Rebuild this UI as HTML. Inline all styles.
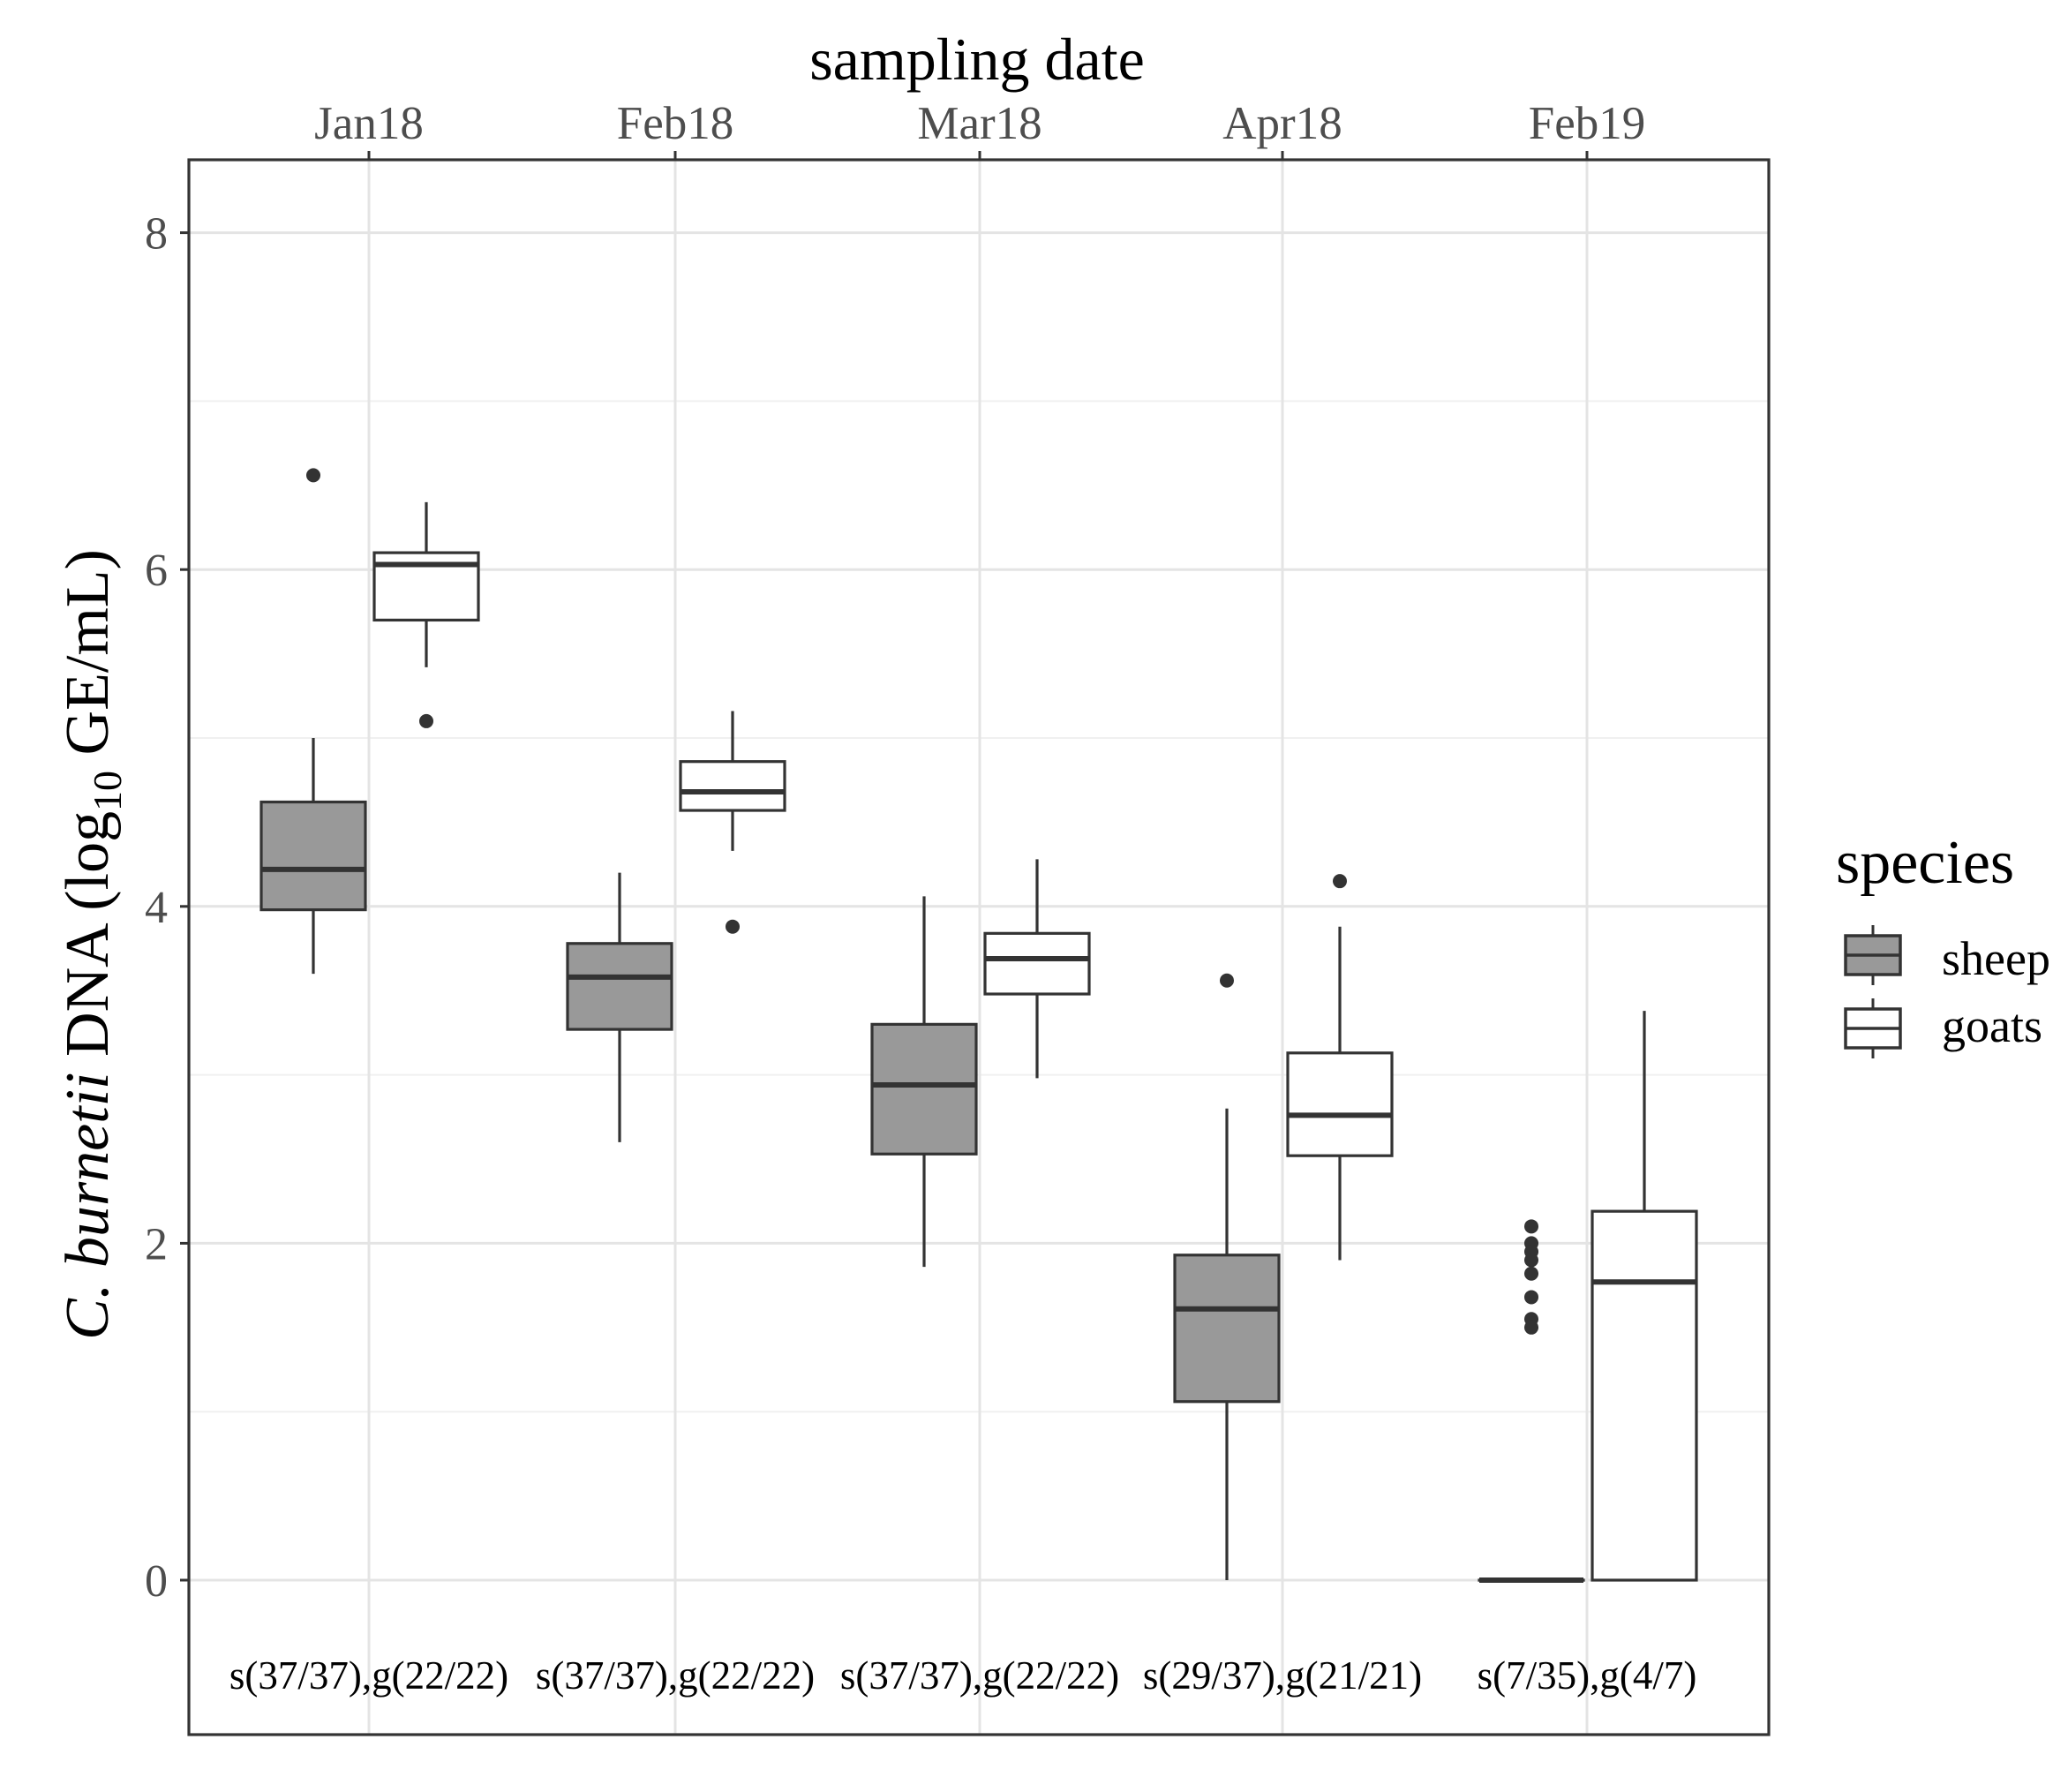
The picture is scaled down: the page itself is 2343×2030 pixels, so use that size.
<!DOCTYPE html>
<html><head><meta charset="utf-8"><style>
html,body{margin:0;padding:0;background:#fff;}
svg{display:block;font-family:"Liberation Serif",serif;}
</style></head><body>
<svg id="s" width="2343" height="2030" viewBox="0 0 2343 2030" xmlns="http://www.w3.org/2000/svg"></svg>
<script>
const s=document.getElementById('s');
const L=214,R=2004,T=181,B=1965;
const Y=v=>1790-v*190.8;
let h='';
for(let v=1;v<=7;v+=2)h+=`<line x1="${L}" x2="${R}" y1="${Y(v)}" y2="${Y(v)}" stroke="#f0f0f0" stroke-width="2"/>`;
for(let v=0;v<=8;v+=2)h+=`<line x1="${L}" x2="${R}" y1="${Y(v)}" y2="${Y(v)}" stroke="#e4e4e4" stroke-width="3"/>`;
const X=[418,765,1110,1453,1798];
X.forEach(x=>h+=`<line x1="${x}" x2="${x}" y1="${T}" y2="${B}" stroke="#e4e4e4" stroke-width="3"/>`);
const data=[
[[3.6,3.98,4.22,4.62,5.0],[6.56],[5.42,5.7,6.03,6.1,6.4],[5.1]],
[[2.6,3.27,3.58,3.78,4.2],[],[4.33,4.57,4.68,4.86,5.16],[3.88]],
[[1.86,2.53,2.94,3.3,4.06],[],[2.98,3.48,3.69,3.84,4.28],[]],
[[0,1.06,1.61,1.93,2.8],[3.56],[1.9,2.52,2.76,3.13,3.88],[4.15]],
[[0,0,0,0,0],[2.1,2.0,1.95,1.9,1.82,1.68,1.55,1.5],[0,0,1.77,2.19,3.38],[]]
];
const W=118;
function box(cx,d,fill){
 let o=`<line x1="${cx}" x2="${cx}" y1="${Y(d[0])}" y2="${Y(d[4])}" stroke="#333" stroke-width="3.2"/>`;
 o+=`<rect x="${cx-W/2}" y="${Y(d[3])}" width="${W}" height="${Math.max(Y(d[1])-Y(d[3]),0.1)}" fill="${fill}" stroke="#333" stroke-width="3.2"/>`;
 o+=`<line x1="${cx-W/2}" x2="${cx+W/2}" y1="${Y(d[2])}" y2="${Y(d[2])}" stroke="#333" stroke-width="6"/>`;
 return o;
}
data.forEach((d,i)=>{
 const cs=X[i]-63,cg=X[i]+65;
 h+=box(cs,d[0],'#999999');
 d[1].forEach(v=>h+=`<circle cx="${cs}" cy="${Y(v)}" r="8" fill="#333"/>`);
 h+=box(cg,d[2],'#ffffff');
 d[3].forEach(v=>h+=`<circle cx="${cg}" cy="${Y(v)}" r="8" fill="#333"/>`);
});
h+=`<rect x="${L}" y="${T}" width="${R-L}" height="${B-T}" fill="none" stroke="#333" stroke-width="3.2"/>`;
for(let v=0;v<=8;v+=2){h+=`<line x1="${L-10}" x2="${L}" y1="${Y(v)}" y2="${Y(v)}" stroke="#333" stroke-width="3"/>`;
 h+=`<text x="${L-24}" y="${Y(v)+18}" font-size="52" fill="#4d4d4d" text-anchor="end">${v}</text>`;}
const labs=['Jan18','Feb18','Mar18','Apr18','Feb19'];
const ann=['s(37/37),g(22/22)','s(37/37),g(22/22)','s(37/37),g(22/22)','s(29/37),g(21/21)','s(7/35),g(4/7)'];
X.forEach((x,i)=>{h+=`<line x1="${x}" x2="${x}" y1="${T-10}" y2="${T}" stroke="#333" stroke-width="3"/>`;
 h+=`<text x="${x}" y="157" font-size="53" fill="#4d4d4d" text-anchor="middle">${labs[i]}</text>`;
 h+=`<text x="${x}" y="1913" font-size="45" fill="#000" text-anchor="middle">${ann[i]}</text>`;});
h+=`<text x="1107" y="90" font-size="68" text-anchor="middle">sampling date</text>`;
h+=`<text transform="translate(122,1070) rotate(-90)" font-size="70" text-anchor="middle"><tspan font-style="italic">C. burnetii</tspan> DNA (log<tspan font-size="46" dy="15">10</tspan><tspan dy="-15"> GE/mL)</tspan></text>`;
h+=`<text x="2080" y="1000" font-size="70">species</text>`;
function lk(y1,y2,fill){return `<line x1="2122" x2="2122" y1="${y1-12}" y2="${y2+12}" stroke="#333" stroke-width="3"/><rect x="2091" y="${y1}" width="62" height="${y2-y1}" fill="${fill}" stroke="#333" stroke-width="3.5"/><line x1="2091" x2="2153" y1="${(y1+y2)/2}" y2="${(y1+y2)/2}" stroke="#333" stroke-width="3.5"/>`;}
h+=lk(1060,1104,'#999999')+lk(1143,1187,'#ffffff');
h+=`<text x="2200" y="1104" font-size="54">sheep</text><text x="2200" y="1180" font-size="54">goats</text>`;
s.innerHTML=h;
</script>
</body></html>
